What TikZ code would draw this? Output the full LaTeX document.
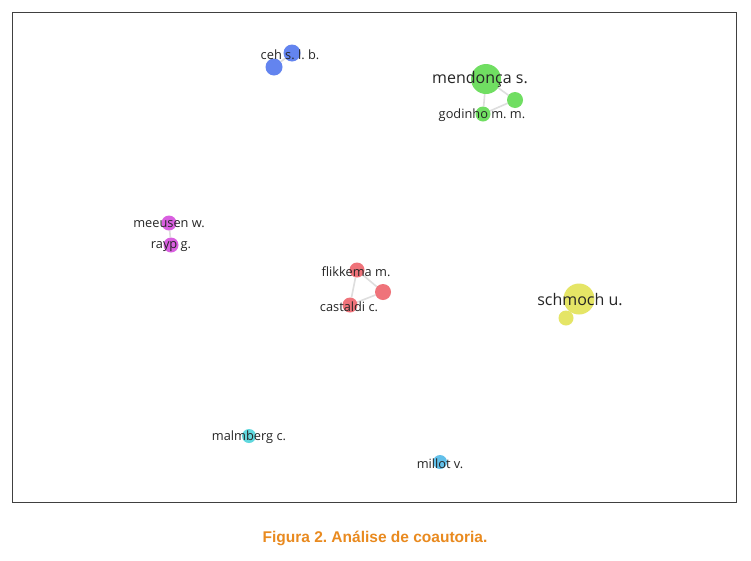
\documentclass[tikz,border=0pt]{standalone}
\usepackage{fontspec}
\setmainfont{Open Sans}
\newfontfamily\capfont{Liberation Sans}
\frenchspacing
\begin{document}
\begin{tikzpicture}[x=1pt,y=-1pt,
  bub/.style={circle,inner sep=0pt,minimum size=#1},
  lab/.style={text=black!85,inner sep=0pt,font=\fontsize{12.8}{14}\selectfont},
  biglab/.style={text=black!85,inner sep=0pt,font=\fontsize{16}{18}\selectfont},
  link/.style={draw=black!13,line width=1.6pt}]
\useasboundingbox (0,0) rectangle (751,560);
\fill[white] (0,0) rectangle (751,560);
\draw[black!75,line width=1pt] (12,12) rectangle (736,502);
\definecolor{cblue}{HTML}{6384EF}
\definecolor{cgreen}{HTML}{70DE62}
\definecolor{cmag}{HTML}{D95FE0}
\definecolor{cred}{HTML}{EF737A}
\definecolor{cyel}{HTML}{E5E566}
\definecolor{ccyan}{HTML}{60D8DE}
\definecolor{clb}{HTML}{62C0EA}
\definecolor{corange}{HTML}{E98A1F}
% nodes
\node[bub=17pt] (ceh) at (292,53) {};
\node[bub=17pt] (ceh2) at (274,67) {};
\node[bub=30pt] (men) at (486,79) {};
\node[bub=16pt] (men2) at (515,100) {};
\node[bub=15pt] (god) at (483,114) {};
\node[bub=15pt] (mee) at (169,223) {};
\node[bub=15pt] (ray) at (171,245) {};
\node[bub=15pt] (fli) at (357,270) {};
\node[bub=16pt] (red3) at (383,292) {};
\node[bub=15pt] (cas) at (350,305) {};
\node[bub=31pt] (sch) at (579,299) {};
\node[bub=15pt] (sch2) at (566,318) {};
\node[bub=14pt] (mal) at (249,436) {};
\node[bub=14pt] (mil) at (440,462) {};
% links
\draw[link] (ceh) -- (ceh2);
\draw[link] (men) -- (men2) (men) -- (god) (men2) -- (god);
\draw[link] (mee) -- (ray);
\draw[link] (fli) -- (red3) (fli) -- (cas) (red3) -- (cas);
\draw[link] (sch) -- (sch2);
% bubbles
\foreach \n/\c/\s in {ceh/cblue/17,ceh2/cblue/17,men/cgreen/30,men2/cgreen/16,god/cgreen/15,mee/cmag/15,ray/cmag/15,fli/cred/15,red3/cred/16,cas/cred/15,sch/cyel/31,sch2/cyel/15,mal/ccyan/14,mil/clb/14}
  \fill[\c] (\n.center) circle[radius=\s/2];
% labels
\node[lab] (lceh) at (290,55) {ceh s. l. b.};
\node[biglab] (lmen) at (480,79.5) {mendonça s.};
\node[lab] (lgod) at (482,115.5) {godinho m. m.};
\node[lab] (lmee) at (169,224.5) {meeusen w.};
\node[lab] (lray) at (171,246.5) {rayp g.};
\node[lab] (lfli) at (356,271.5) {flikkema m.};
\node[lab] (lcas) at (349,306.5) {castaldi c.};
\node[biglab] (lsch) at (580,300) {schmoch u.};
\node[lab] (lmal) at (249,437.5) {malmberg c.};
\node[lab] (lmil) at (440,463.5) {millot v.};
\node[text=corange,font=\capfont\bfseries\fontsize{15.5}{17}\selectfont] (cap) at (375,538) {Figura 2. Análise de coautoria.};
\end{tikzpicture}
\end{document}
